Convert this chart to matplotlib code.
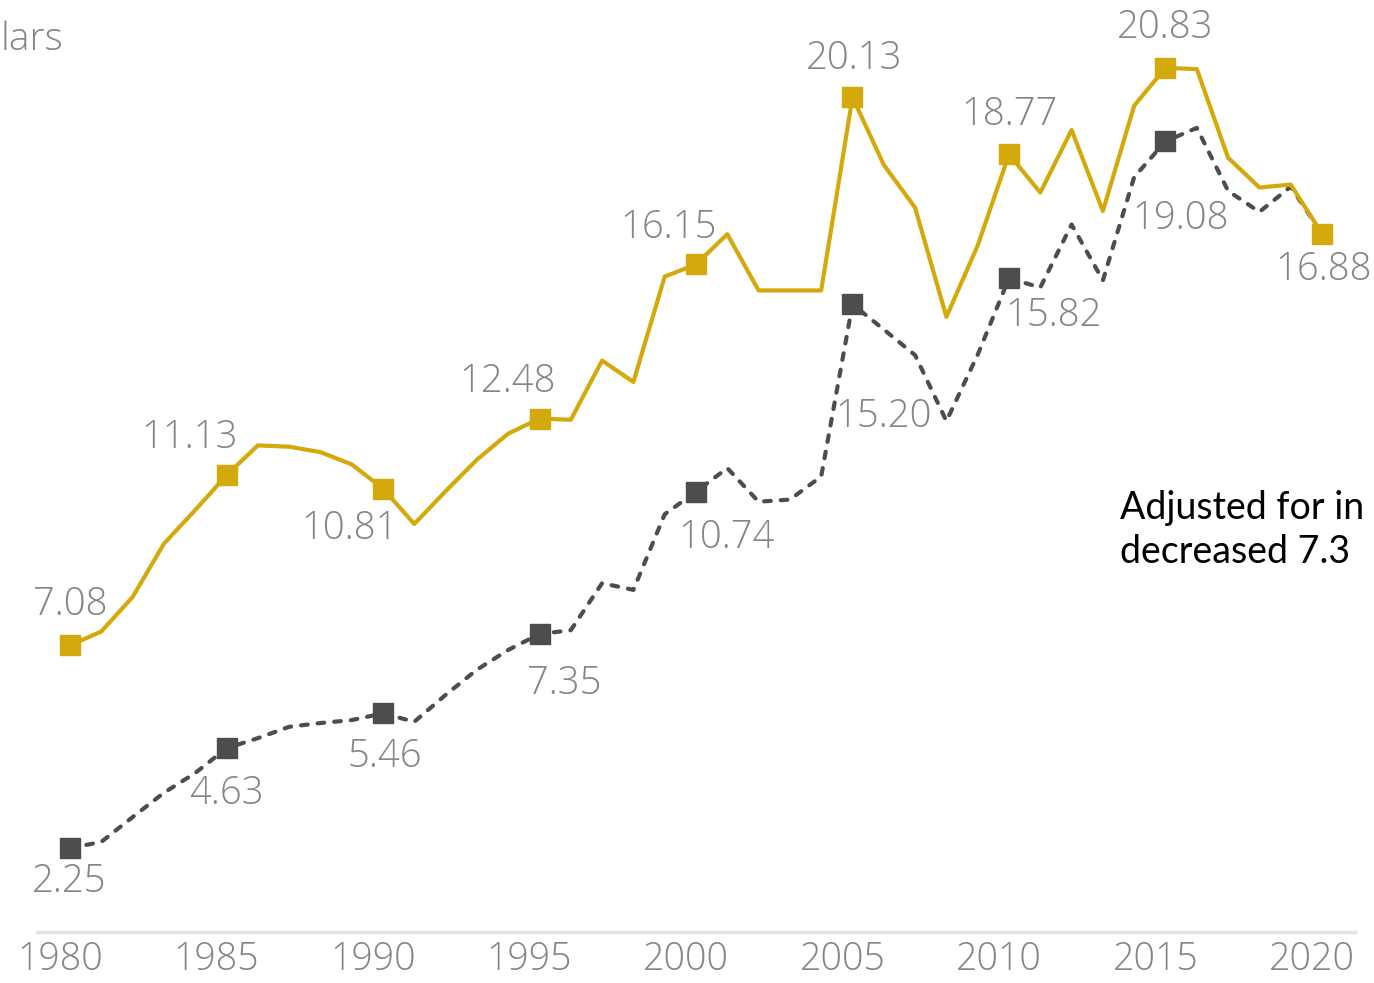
import numpy as np
import matplotlib.pyplot as plt
from matplotlib.transforms import ScaledTranslation

# years 1980-2020
years = np.arange(1980, 2021)

# inflation adjusted series (gold, solid)
adjusted = [7.08, 7.41, 8.23, 9.50, 10.30, 11.13, 11.84, 11.81, 11.68, 11.39,
            10.81, 9.97, 10.75, 11.50, 12.12, 12.48, 12.45, 13.86, 13.35, 15.86,
            16.15, 16.87, 15.53, 15.53, 15.53, 20.13, 18.52, 17.50, 14.90, 16.60,
            18.77, 17.86, 19.35, 17.42, 19.93, 20.83, 20.80, 18.69, 17.98, 18.05,
            16.88]

# nominal series (dark gray, dotted)
nominal = [2.25, 2.40, 2.99, 3.57, 4.04, 4.63, 4.87, 5.14, 5.23, 5.30,
           5.46, 5.26, 5.90, 6.50, 6.97, 7.35, 7.44, 8.56, 8.40, 10.20,
           10.74, 11.30, 10.50, 10.55, 11.10, 15.20, 14.60, 13.99, 12.42, 14.00,
           15.82, 15.60, 17.10, 15.77, 18.23, 19.08, 19.40, 17.90, 17.40, 18.00,
           16.88]

label_years = [1980, 1985, 1990, 1995, 2000, 2005, 2010, 2015, 2020]
tick_years = [1980, 1985, 1990, 1995, 2000, 2005, 2010, 2015, 2020]

# label offsets in pixels for each marked point
gold_offsets = [(0, 41), (-37, 37), (-33, -40), (-32, 37), (-27, 37),
                (2, 38), (0, 40), (0, 40), (2, -36)]
gray_offsets = [(-1, -34), (0, -46), (2, -43), (25, -50), (30, -46),
                (31, -112), (45, -37), (15, -77), None]

gold = '#d4a90c'
dark = '#4d4d4d'
label_color = '#858585'
font = ['Open Sans', 'DejaVu Sans']

fig = plt.figure(figsize=(13.74, 9.83), dpi=100)
ax = fig.add_axes([37 / 1374, 1 - 932 / 983, (1355 - 37) / 1374, 932 / 983])

idx = [list(years).index(y) for y in label_years]

ax.plot(years, nominal, color=dark, linewidth=3, linestyle=(0, (1.6, 2.4)),
        dash_capstyle='round', marker='s', markersize=15, markevery=idx[:-1],
        clip_on=False, zorder=2)
ax.plot(years, adjusted, color=gold, linewidth=3, marker='s', markersize=15,
        markevery=idx, clip_on=False, zorder=3)

for i, y, off in zip(idx, label_years, gold_offsets):
    ax.annotate(f'{adjusted[i]:.2f}', (y, adjusted[i]), xytext=off,
                textcoords='offset pixels', ha='center', va='center',
                fontsize=27.5, color=label_color, family=font, fontweight='light')
for i, y, off in zip(idx, label_years, gray_offsets):
    if off is None:
        continue
    ax.annotate(f'{nominal[i]:.2f}', (y, nominal[i]), xytext=off,
                textcoords='offset pixels', ha='center', va='center',
                fontsize=27.5, color=label_color, family=font, fontweight='light')

ax.set_xlim(1980 + (37 - 70) / 31.3, 1980 + (1355 - 70) / 31.3)
ax.set_ylim((942.7 - 932) / 42, 942.7 / 42)

for s in ['top', 'right', 'left']:
    ax.spines[s].set_visible(False)
ax.spines['bottom'].set_color('#e3e3e3')
ax.spines['bottom'].set_linewidth(2.5)
ax.set_yticks([])
ax.set_xticks(tick_years)
ax.set_xticklabels([str(t) for t in tick_years], fontsize=27, color=label_color,
                   family=font, fontweight='light')
ax.tick_params(axis='x', length=0, pad=6)
shift = ScaledTranslation(-10 / 100, 0, fig.dpi_scale_trans)
for lab in ax.get_xticklabels():
    lab.set_transform(lab.get_transform() + shift)
ax.set_facecolor('none')

fig.text(0.0, 1 - 40 / 983, 'lars', fontsize=28, color=label_color,
         family=font, fontweight='light', ha='left', va='center')
fig.text(1120 / 1374, 1 - 530 / 983, 'Adjusted for in\ndecreased 7.3',
         fontsize=27, color='black', family=['Lato', 'DejaVu Sans'],
         ha='left', va='center', linespacing=1.3)

fig.savefig('out.png', dpi=100)
